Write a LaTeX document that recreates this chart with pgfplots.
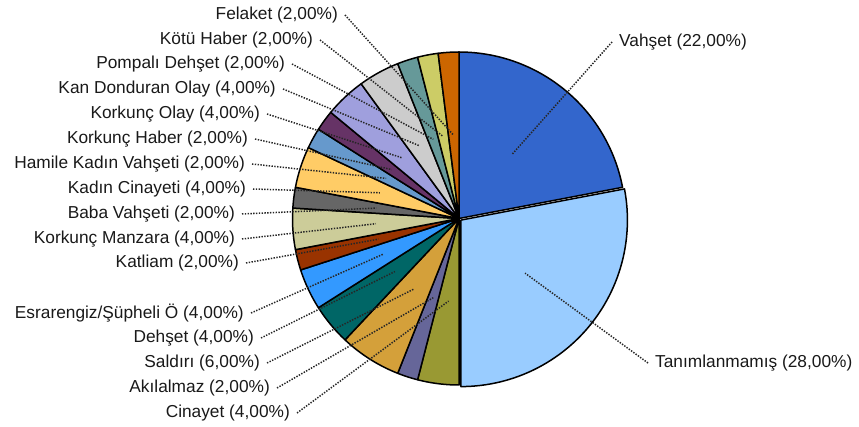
\documentclass[border=0pt]{standalone}
\usepackage{fontspec}
\setmainfont{Liberation Sans}
\usepackage{pgfplots}
\usepackage{pgfplotstable}
\pgfplotsset{compat=1.18}
\definecolor{c1}{HTML}{3366CC}
\definecolor{c2}{HTML}{99CCFF}
\definecolor{c3}{HTML}{999933}
\definecolor{c4}{HTML}{666699}
\definecolor{c5}{HTML}{D4A03A}
\definecolor{c6}{HTML}{006666}
\definecolor{c7}{HTML}{3399FF}
\definecolor{c8}{HTML}{993300}
\definecolor{c9}{HTML}{CCCC99}
\definecolor{c10}{HTML}{666666}
\definecolor{c11}{HTML}{FFCC66}
\definecolor{c12}{HTML}{6699CC}
\definecolor{c13}{HTML}{663366}
\definecolor{c14}{HTML}{9F9FDD}
\definecolor{c15}{HTML}{CCCCCC}
\definecolor{c16}{HTML}{669999}
\definecolor{c17}{HTML}{CCCC66}
\definecolor{c18}{HTML}{CC6600}
% value = share in percent; lx, ly = label anchor (dot) position; side: 1 right, -1 left
\pgfplotstableread[col sep=semicolon]{
name;value;col;lx;ly;side;expl
Vahşet;22;c1;612;42;1;0
Tanımlanmamış;28;c2;648;363;1;2.5
Cinayet;4;c3;297;413;-1;0
Akılalmaz;2;c4;277;388;-1;0
Saldırı;6;c5;267;363;-1;0
Dehşet;4;c6;261;338;-1;0
Esrarengiz/Şüpheli Ö;4;c7;251;313;-1;0
Katliam;2;c8;246;263;-1;0
Korkunç Manzara;4;c9;242;239;-1;0
Baba Vahşeti;2;c10;242;214;-1;0
Kadın Cinayeti;4;c11;253;189;-1;0
Hamile Kadın Vahşeti;2;c12;252;164;-1;0
Korkunç Haber;2;c13;255;139;-1;0
Korkunç Olay;4;c14;267;114;-1;0
Kan Donduran Olay;4;c15;283;89;-1;0
Pompalı Dehşet;2;c16;292;64;-1;0
Kötü Haber;2;c17;320;40;-1;0
Felaket;2;c18;345;15;-1;0
}\piedata
\tikzset{
  lab/.style={font=\fontsize{17.3bp}{20bp}\selectfont, text=black!90, inner sep=0pt},
  leader/.style={draw=black!85, line width=1.5bp, dash pattern=on 1.4bp off 1.4bp},
}
\def\pcx{459}
\def\pcy{208.5}
\def\pr{166.5}
\begin{document}
\begin{tikzpicture}
\begin{axis}[at={(0,0)}, anchor=south west, width=859bp, height=427bp,
  scale only axis, xmin=0, xmax=859, ymin=0, ymax=427, hide axis, clip=false]
\coordinate (bl) at (axis cs:0,0);
\coordinate (tr) at (axis cs:859,427);
\pgfplotstablegetrowsof{\piedata}
\pgfmathtruncatemacro\N{\pgfplotsretval-1}
\def\cum{0}
\pgfplotsforeachungrouped \i in {0,...,\N}{%
  \pgfplotstablegetelem{\i}{value}\of\piedata \let\v\pgfplotsretval
  \pgfplotstablegetelem{\i}{col}\of\piedata \let\c\pgfplotsretval
  \pgfplotstablegetelem{\i}{expl}\of\piedata \let\e\pgfplotsretval
  \pgfmathsetmacro\aend{90-3.6*\cum}%
  \pgfmathsetmacro\astart{90-3.6*(\cum+\v)}%
  \pgfmathsetmacro\amid{90-3.6*(\cum+\v/2)}%
  \pgfmathsetmacro\cx{\pcx+\e*cos(\amid)}%
  \pgfmathsetmacro\cy{\pcy+\e*sin(\amid)}%
  \edef\tmp{\noexpand\addplot[fill=\c, draw=black, line width=1.5bp, line join=round, domain=\astart:\aend, samples=60, forget plot] ({\cx+\pr*cos(x)},{\cy+\pr*sin(x)}) -- (axis cs:\cx,\cy) -- cycle;}%
  \tmp
  \pgfmathsetmacro\cum{\cum+\v}%
}
\def\cum{0}
\pgfplotsforeachungrouped \i in {0,...,\N}{%
  \pgfplotstablegetelem{\i}{name}\of\piedata \let\nm\pgfplotsretval
  \pgfplotstablegetelem{\i}{value}\of\piedata \let\v\pgfplotsretval
  \pgfplotstablegetelem{\i}{expl}\of\piedata \let\e\pgfplotsretval
  \pgfplotstablegetelem{\i}{lx}\of\piedata \let\lx\pgfplotsretval
  \pgfplotstablegetelem{\i}{ly}\of\piedata \let\lyraw\pgfplotsretval
  \pgfplotstablegetelem{\i}{side}\of\piedata \let\sd\pgfplotsretval
  \pgfmathsetmacro\amid{90-3.6*(\cum+\v/2)}%
  \pgfmathsetmacro\ix{\pcx+(\e+0.5*\pr)*cos(\amid)}%
  \pgfmathsetmacro\iy{\pcy+(\e+0.5*\pr)*sin(\amid)}%
  \pgfmathsetmacro\ly{427-\lyraw}%
  \pgfmathsetmacro\tx{\lx+7*\sd}%
  \ifnum\sd>0 \def\anc{west}\else\def\anc{east}\fi
  \edef\tmp{\noexpand\draw[leader] (axis cs:\lx,\ly) -- (axis cs:\ix,\iy);
    \noexpand\node[lab, anchor=\anc] at (axis cs:\tx,\ly) {\nm\space(\v,00\noexpand\%)};}%
  \tmp
  \pgfmathsetmacro\cum{\cum+\v}%
}
\end{axis}
\pgfresetboundingbox
\useasboundingbox (bl) rectangle (tr);
\end{tikzpicture}
\end{document}
